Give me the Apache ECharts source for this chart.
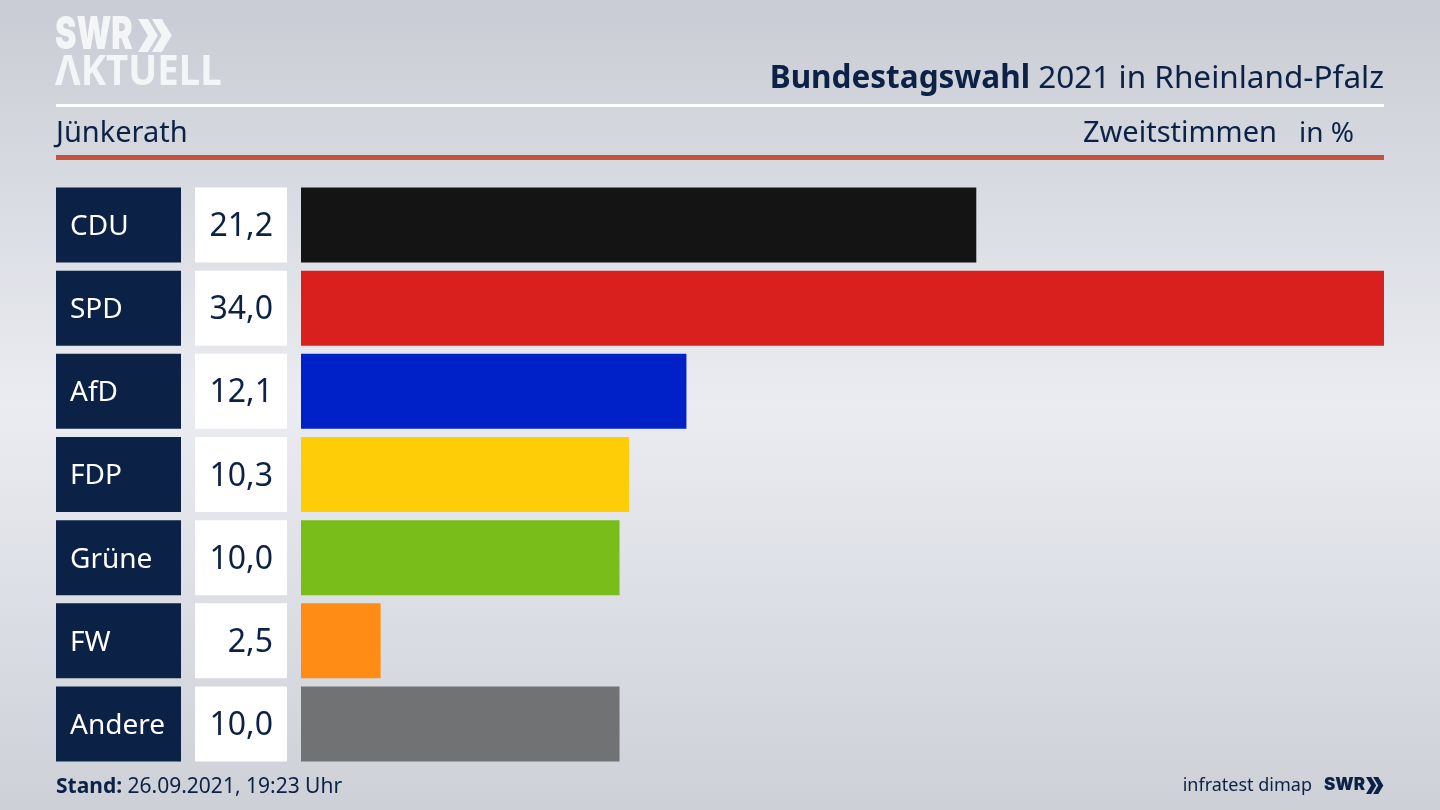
<!DOCTYPE html>
<html>
<head>
<meta charset="utf-8">
<title>Bundestagswahl 2021 in Rheinland-Pfalz</title>
<script src="https://cdn.jsdelivr.net/npm/echarts@6/dist/echarts.min.js"></script>
<style>
html, body { margin: 0; padding: 0; background: #d8dbe1; }
#chart { width: 1440px; height: 810px; }
</style>
</head>
<body>
<div id="chart"></div>
<script>
var parties = ['CDU', 'SPD', 'AfD', 'FDP', 'Grüne', 'FW', 'Andere'];
var shares = [21.2, 34.0, 12.1, 10.3, 10.0, 2.5, 10.0];
var partyColors = ['#141414', '#d9201f', '#0021c8', '#ffcd07', '#79bd1a', '#ff8c14', '#717274'];

var navy = '#0b2145';
var font = '"Noto Sans", sans-serif';

function shareLabel(v) {
    return v.toFixed(1).replace('.', ',');
}

// chevrons of the SWR logo
function chevrons(x, y, h, fill) {
    var t = h * 0.3, w = h * 0.3, gap = h * 0.42;
    return [0, 1].map(function (i) {
        var x0 = x + i * gap;
        return {
            type: 'polygon',
            shape: { points: [[x0, y], [x0 + t, y], [x0 + t + w, y + h / 2], [x0 + t, y + h], [x0, y + h], [x0 + w, y + h / 2]] },
            style: { fill: fill }
        };
    });
}

var myChart = echarts.init(document.getElementById('chart'));

var option = {
    animation: false,
    backgroundColor: new echarts.graphic.LinearGradient(0, 0, 0, 1, [
        { offset: 0, color: '#c9ccd4' },
        { offset: 0.5, color: '#eaecf1' },
        { offset: 1, color: '#cdd0d7' }
    ]),
    grid: { left: 301, width: 1083, top: 183.5, height: 582 },
    xAxis: { type: 'value', min: 0, max: 34, show: false },
    yAxis: [
        {
            type: 'category',
            inverse: true,
            data: parties,
            axisLine: { show: false },
            axisTick: { show: false },
            axisLabel: {
                margin: 245,
                align: 'left',
                interval: 0,
                formatter: function (v) { return '{box|' + v + '}'; },
                rich: {
                    box: {
                        width: 111,
                        height: 71,
                        lineHeight: 71,
                        padding: [4, 0, 0, 14],
                        backgroundColor: navy,
                        color: '#ffffff',
                        fontFamily: font,
                        fontSize: 28
                    }
                }
            }
        },
        {
            type: 'category',
            inverse: true,
            position: 'left',
            data: shares.map(shareLabel),
            axisLine: { show: false },
            axisTick: { show: false },
            axisLabel: {
                margin: 106,
                align: 'left',
                interval: 0,
                formatter: function (v) { return '{box|' + v + '}'; },
                rich: {
                    box: {
                        width: 78,
                        height: 71,
                        lineHeight: 71,
                        align: 'right',
                        padding: [4, 14, 0, 0],
                        backgroundColor: '#ffffff',
                        color: navy,
                        fontFamily: font,
                        fontSize: 32
                    }
                }
            }
        }
    ],
    series: [{
        type: 'bar',
        barWidth: 75,
        silent: true,
        data: shares.map(function (v, i) {
            return { value: v, itemStyle: { color: partyColors[i] } };
        })
    }],
    graphic: [
        { type: 'text', x: 55, y: 36, scaleX: 0.92, scaleY: 1.28, style: { x: 0, y: 0, verticalAlign: 'middle', text: 'SWR', fill: '#f4f5f7', font: '900 35px Inter, sans-serif' } },
        { type: 'text', x: 55, y: 73, scaleX: 1.01, scaleY: 1.1, style: { x: 0, y: 0, verticalAlign: 'middle', text: 'ΛKTUELL', fill: '#f4f5f7', font: '700 38px "Noto Sans", sans-serif' } },
        { type: 'group', children: chevrons(138, 19, 33, '#f4f5f7') },
        { type: 'rect', shape: { x: 56, y: 104, width: 1328, height: 3 }, style: { fill: '#ffffff' } },
        { type: 'rect', shape: { x: 56, y: 155, width: 1328, height: 5 }, style: { fill: '#c9503e' } },
        {
            type: 'text',
            style: {
                x: 1384, y: 79, align: 'right', verticalAlign: 'middle',
                text: '{b|Bundestagswahl}{n| 2021 in Rheinland-Pfalz}',
                rich: {
                    b: { font: '700 31.5px ' + font, fill: navy },
                    n: { font: '400 31.5px ' + font, fill: navy }
                }
            }
        },
        { type: 'text', style: { x: 56, y: 134, verticalAlign: 'middle', text: 'Jünkerath', fill: navy, font: '400 29px ' + font } },
        { type: 'text', style: { x: 1277, y: 134, align: 'right', verticalAlign: 'middle', text: 'Zweitstimmen', fill: navy, font: '400 29px ' + font } },
        { type: 'text', style: { x: 1354, y: 134, align: 'right', verticalAlign: 'middle', text: 'in %', fill: navy, font: '400 28px ' + font } },
        {
            type: 'text',
            style: {
                x: 56, y: 787, verticalAlign: 'middle',
                text: '{b|Stand:}{n| 26.09.2021, 19:23 Uhr}',
                rich: {
                    b: { font: '700 21px ' + font, fill: navy },
                    n: { font: '400 21px ' + font, fill: navy }
                }
            }
        },
        { type: 'text', style: { x: 1312, y: 786, align: 'right', verticalAlign: 'middle', text: 'infratest dimap', fill: navy, font: '400 18px ' + font } },
        { type: 'text', style: { x: 1324, y: 785, verticalAlign: 'middle', text: 'SWR', fill: navy, font: '900 17px Inter, sans-serif' } },
        { type: 'group', children: chevrons(1366, 777, 17, navy) }
    ]
};

if (option && typeof option === 'object') {
    myChart.setOption(option, true);
}
window.addEventListener('resize', function () { myChart.resize(); });
</script>
</body>
</html>
